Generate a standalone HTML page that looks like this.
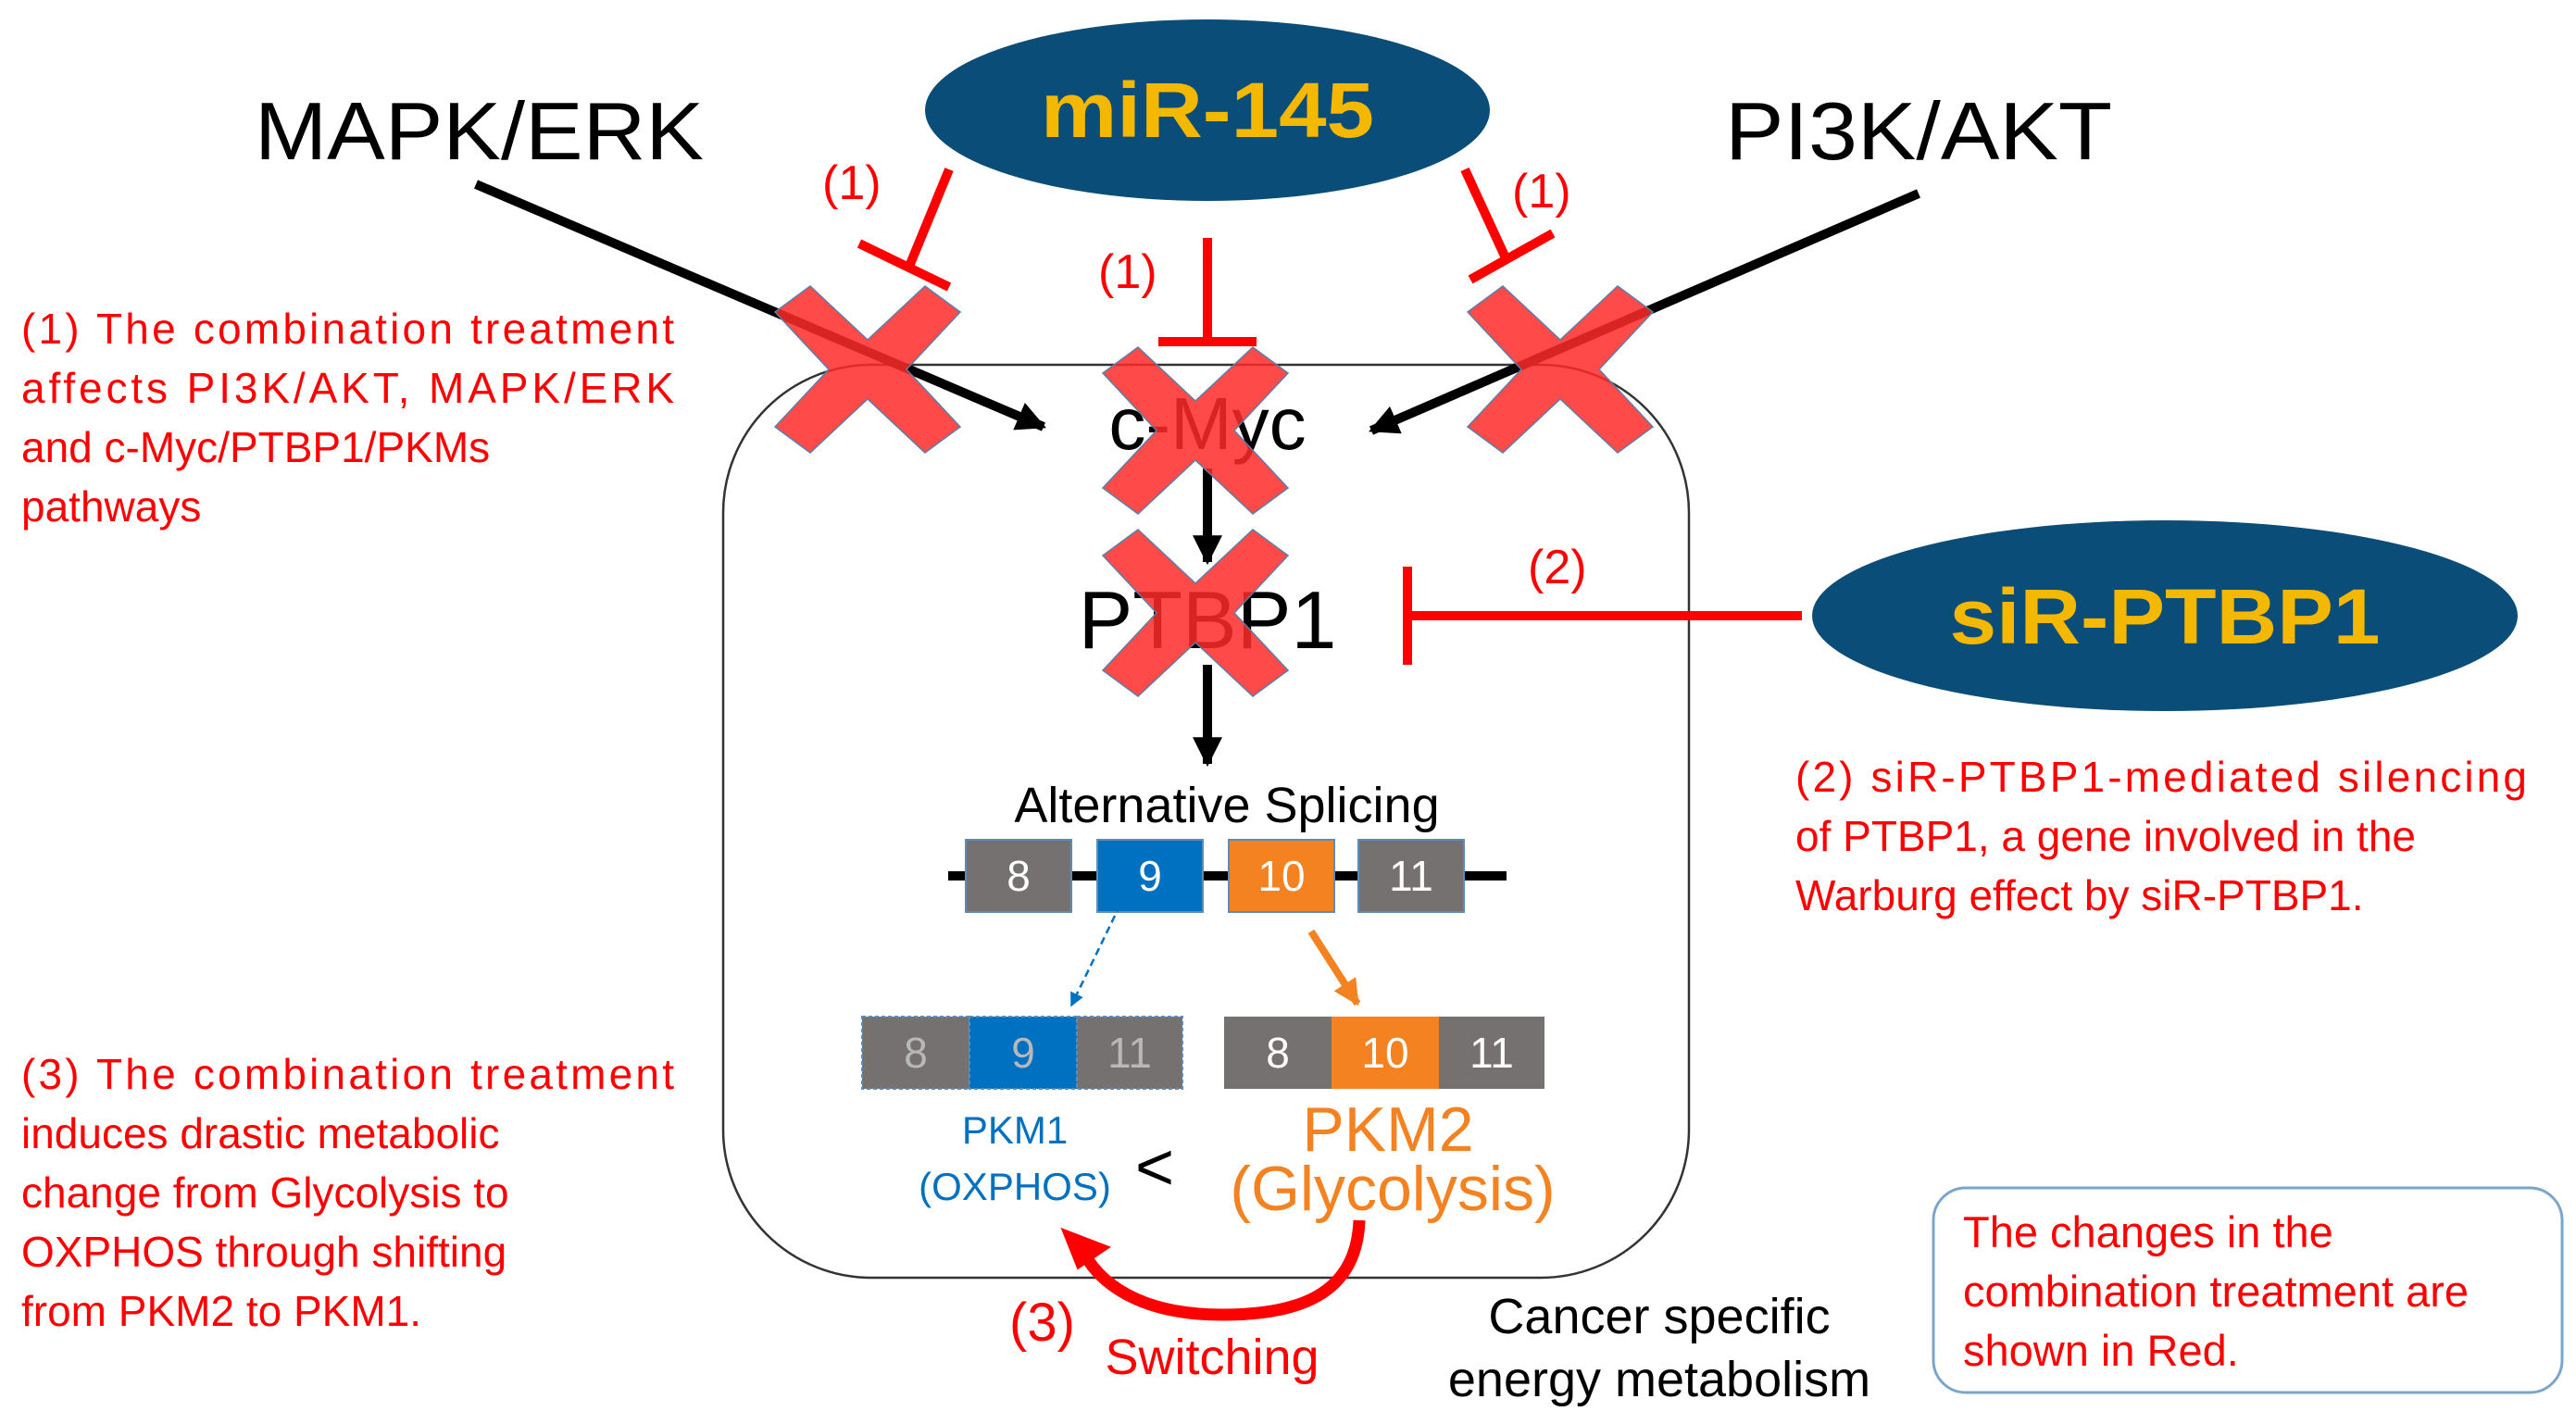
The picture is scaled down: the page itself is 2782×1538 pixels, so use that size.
<!DOCTYPE html>
<html><head><meta charset="utf-8"><style>
html,body{margin:0;padding:0;background:#fff;}
svg{display:block;}
text{font-family:"Liberation Sans",Arial,sans-serif;}
</style></head><body>
<svg width="2782" height="1538" viewBox="0 0 2782 1538" xmlns="http://www.w3.org/2000/svg">
<defs>
<marker id="ab" viewBox="0 0 10 10" refX="9" refY="5" markerWidth="3.2" markerHeight="3.2" orient="auto"><path d="M0,0 L10,5 L0,10 z" fill="#000"/></marker>
<marker id="abl" viewBox="0 0 10 10" refX="9" refY="5" markerWidth="6" markerHeight="6" orient="auto"><path d="M0,0 L10,5 L0,10 z" fill="#0070c0"/></marker>
<marker id="aor" viewBox="0 0 10 10" refX="9" refY="5" markerWidth="3.5" markerHeight="3.5" orient="auto"><path d="M0,0 L10,5 L0,10 z" fill="#f58220"/></marker>
</defs>

<rect x="781" y="394" width="1043" height="986" rx="160" ry="160" fill="none" stroke="#333" stroke-width="2.5"/>

<ellipse cx="1304" cy="119" rx="305" ry="98" fill="#0a4d79"/>
<text x="1304" y="148" font-size="84" font-weight="bold" fill="#f5b800" text-anchor="middle" textLength="360" lengthAdjust="spacingAndGlyphs">miR-145</text>
<ellipse cx="2338" cy="665" rx="381" ry="103" fill="#0a4d79"/>
<text x="2338" y="695" font-size="84" font-weight="bold" fill="#f5b800" text-anchor="middle" textLength="465" lengthAdjust="spacingAndGlyphs">siR-PTBP1</text>

<text x="275" y="172" font-size="88" fill="#000" textLength="485" lengthAdjust="spacingAndGlyphs">MAPK/ERK</text>
<text x="1863" y="172" font-size="88" fill="#000" textLength="418" lengthAdjust="spacingAndGlyphs">PI3K/AKT</text>

<line x1="514" y1="199" x2="1127" y2="461" stroke="#000" stroke-width="10" marker-end="url(#ab)"/>
<line x1="2072" y1="209" x2="1481" y2="465" stroke="#000" stroke-width="10" marker-end="url(#ab)"/>
<line x1="1304" y1="506" x2="1304" y2="607" stroke="#000" stroke-width="10" marker-end="url(#ab)"/>
<line x1="1304" y1="718" x2="1304" y2="825" stroke="#000" stroke-width="10" marker-end="url(#ab)"/>

<text x="1304" y="485" font-size="80" fill="#000" text-anchor="middle">c-Myc</text>
<text x="1304" y="700" font-size="88" fill="#000" text-anchor="middle">PTBP1</text>

<g stroke="#ff0000" stroke-width="10" fill="none">
<line x1="1025" y1="183" x2="981" y2="290"/>
<line x1="928" y1="263" x2="1025" y2="310"/>
<line x1="1304" y1="257" x2="1304" y2="369"/>
<line x1="1251" y1="369" x2="1357" y2="369"/>
<line x1="1582" y1="183" x2="1628" y2="283"/>
<line x1="1588" y1="302" x2="1677" y2="252"/>
<line x1="1946" y1="665" x2="1520" y2="665"/>
<line x1="1520" y1="612" x2="1520" y2="718"/>
</g>
<g fill="#ff0000" font-size="52">
<text x="888" y="215">(1)</text>
<text x="1186" y="311">(1)</text>
<text x="1633" y="224">(1)</text>
<text x="1650" y="630">(2)</text>
</g>

<g fill="#ff2a2a" fill-opacity="0.85" stroke="#5a7fa8" stroke-width="1.5">
<path d="M-100,-62 L-62,-90 L0,-32 L62,-90 L100,-62 L42,0 L100,62 L62,90 L0,32 L-62,90 L-100,62 L-42,0 Z" transform="translate(937,399)"/>
<path d="M-100,-62 L-62,-90 L0,-32 L62,-90 L100,-62 L42,0 L100,62 L62,90 L0,32 L-62,90 L-100,62 L-42,0 Z" transform="translate(1291,465)"/>
<path d="M-100,-62 L-62,-90 L0,-32 L62,-90 L100,-62 L42,0 L100,62 L62,90 L0,32 L-62,90 L-100,62 L-42,0 Z" transform="translate(1291,662)"/>
<path d="M-100,-62 L-62,-90 L0,-32 L62,-90 L100,-62 L42,0 L100,62 L62,90 L0,32 L-62,90 L-100,62 L-42,0 Z" transform="translate(1685,399)"/>
</g>

<text x="1325" y="888" font-size="54" fill="#000" text-anchor="middle">Alternative Splicing</text>
<line x1="1024" y1="946" x2="1627" y2="946" stroke="#000" stroke-width="10"/>
<g stroke="#5b8db8" stroke-width="2">
<rect x="1043" y="907" width="114" height="78" fill="#767171"/>
<rect x="1185" y="907" width="114" height="78" fill="#0070c0"/>
<rect x="1327" y="907" width="114" height="78" fill="#f58220"/>
<rect x="1467" y="907" width="114" height="78" fill="#767171"/>
</g>
<g fill="#fff" font-size="46" text-anchor="middle">
<text x="1100" y="962">8</text><text x="1242" y="962">9</text><text x="1384" y="962">10</text><text x="1524" y="962">11</text>
</g>

<line x1="1221" y1="954" x2="1157" y2="1086" stroke="#0070c0" stroke-width="2.5" stroke-dasharray="8,5" marker-end="url(#abl)"/>
<line x1="1416" y1="1006" x2="1466" y2="1084" stroke="#f58220" stroke-width="8" marker-end="url(#aor)"/>

<g stroke="#5b8db8" stroke-width="2" stroke-dasharray="4,3">
<rect x="931" y="1098" width="116" height="78" fill="#767171"/>
<rect x="1047" y="1098" width="116" height="78" fill="#0070c0"/>
<rect x="1163" y="1098" width="114" height="78" fill="#767171"/>
</g>
<g fill="#b8b8b8" font-size="46" text-anchor="middle">
<text x="989" y="1153">8</text><text x="1105" y="1153">9</text><text x="1220" y="1153">11</text>
</g>
<rect x="1322" y="1098" width="116" height="78" fill="#767171"/>
<rect x="1438" y="1098" width="116" height="78" fill="#f58220"/>
<rect x="1554" y="1098" width="114" height="78" fill="#767171"/>
<g fill="#fff" font-size="46" text-anchor="middle">
<text x="1380" y="1153">8</text><text x="1496" y="1153">10</text><text x="1611" y="1153">11</text>
</g>

<text x="1096" y="1235" font-size="42" fill="#0070c0" text-anchor="middle">PKM1</text>
<text x="1096" y="1296" font-size="42" fill="#0070c0" text-anchor="middle">(OXPHOS)</text>
<text x="1247" y="1285" font-size="72" fill="#000" text-anchor="middle">&lt;</text>
<text x="1499" y="1243" font-size="68" fill="#f58220" text-anchor="middle">PKM2</text>
<text x="1504" y="1307" font-size="68" fill="#f58220" text-anchor="middle">(Glycolysis)</text>

<path d="M1468,1318 C1465,1400 1400,1420 1320,1420 C1230,1420 1185,1385 1168,1348" fill="none" stroke="#ff0000" stroke-width="13"/>
<path d="M1150,1322 L1200,1352 L1160,1370 Z" fill="#ff0000" transform="rotate(-10 1170 1350)"/>
<text x="1090" y="1448" font-size="58" fill="#ff0000">(3)</text>
<text x="1309" y="1484" font-size="54" fill="#ff0000" text-anchor="middle">Switching</text>

<text x="1792" y="1440" font-size="54" fill="#000" text-anchor="middle">Cancer specific</text>
<text x="1792" y="1508" font-size="54" fill="#000" text-anchor="middle">energy metabolism</text>

<g fill="#ff0000" font-size="46">
<text x="23" y="371" textLength="705" lengthAdjust="spacing">(1) The combination treatment</text>
<text x="23" y="435" textLength="705" lengthAdjust="spacing">affects PI3K/AKT, MAPK/ERK</text>
<text x="23" y="499">and c-Myc/PTBP1/PKMs</text>
<text x="23" y="563">pathways</text>

<text x="23" y="1176" textLength="705" lengthAdjust="spacing">(3) The combination treatment</text>
<text x="23" y="1240">induces drastic metabolic</text>
<text x="23" y="1304">change from Glycolysis to</text>
<text x="23" y="1368">OXPHOS through shifting</text>
<text x="23" y="1432">from PKM2 to PKM1.</text>

<text x="1939" y="855" textLength="790" lengthAdjust="spacing">(2) siR-PTBP1-mediated silencing</text>
<text x="1939" y="919">of PTBP1, a gene involved in the</text>
<text x="1939" y="983">Warburg effect by siR-PTBP1.</text>
</g>

<rect x="2088" y="1283" width="679" height="221" rx="35" ry="35" fill="#fff" stroke="#7aa6cc" stroke-width="3"/>
<g fill="#ff0000" font-size="47">
<text x="2120" y="1347">The changes in the</text>
<text x="2120" y="1411">combination treatment are</text>
<text x="2120" y="1475">shown in Red.</text>
</g>
</svg>
</body></html>
